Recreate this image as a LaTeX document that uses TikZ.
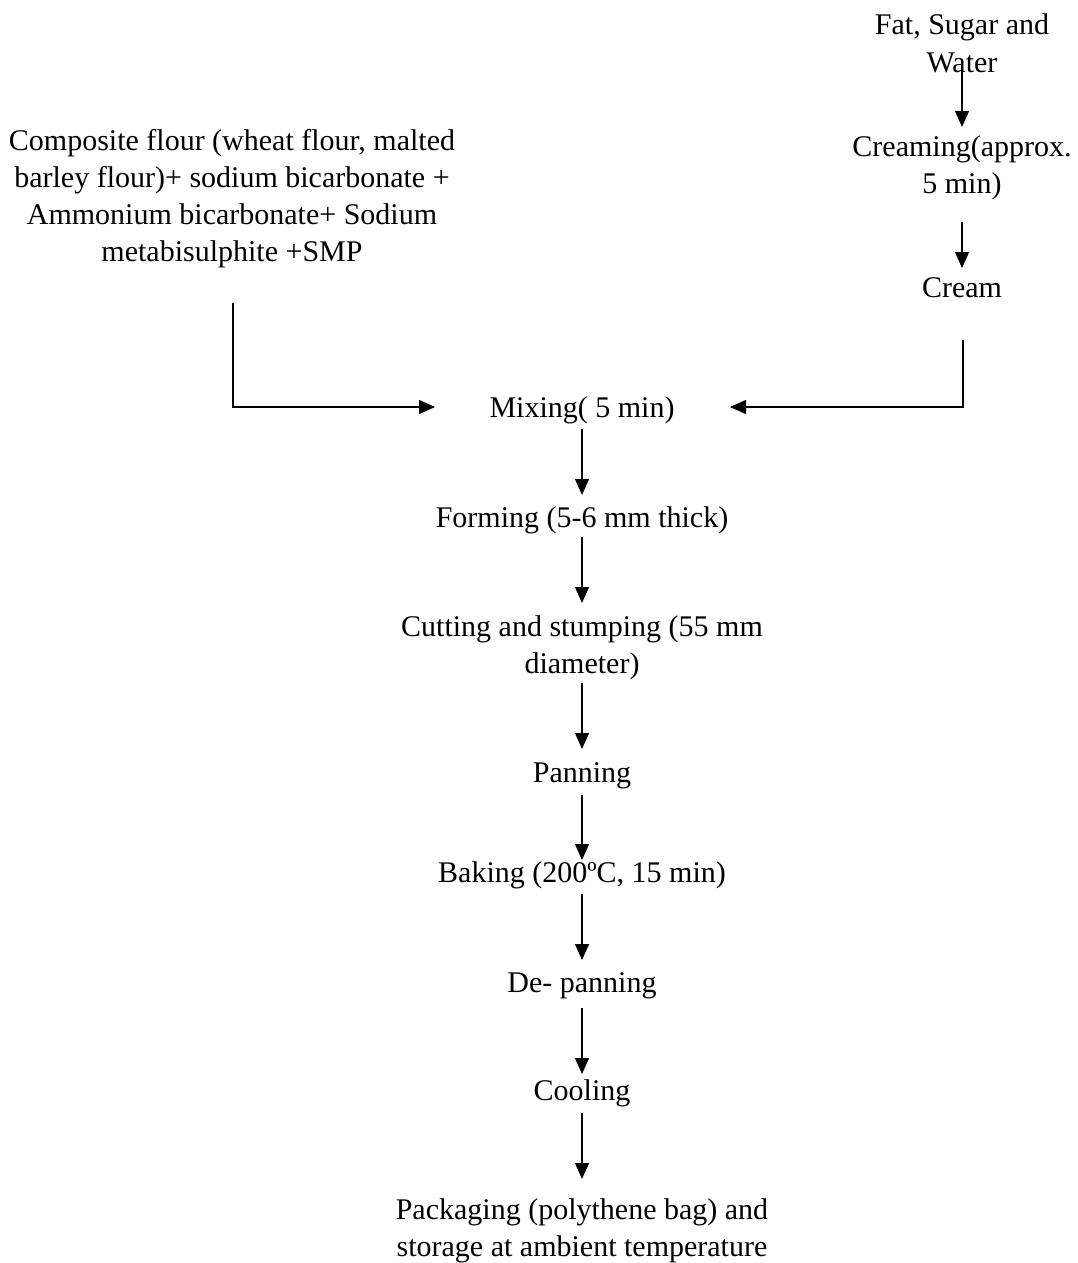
\documentclass[tikz,border=0pt]{standalone}
\usepackage{fontspec}
\setmainfont{Liberation Serif}
\usetikzlibrary{arrows.meta}
\tikzset{
  lbl/.style={anchor=base, inner sep=0pt, align=center, font=\fontsize{30}{37}\selectfont},
  arr/.style={line width=1.3pt, -{Triangle[length=16pt,width=14pt]}},
  ln/.style={line width=1.3pt}
}
\begin{document}
\begin{tikzpicture}[x=1pt,y=-1pt]
\useasboundingbox (0,0) rectangle (1078,1263);
% base anchor = baseline of the last line
\node[lbl] (fat)   at (962,72)   {Fat, Sugar and\\Water};
\node[lbl] (cring) at (962,193)  {Creaming(approx.\\5 min)};
\node[lbl] (cream) at (962,297)  {Cream};
\node[lbl] (comp)  at (232,261)  {Composite flour (wheat flour, malted\\barley flour)+ sodium bicarbonate +\\Ammonium bicarbonate+ Sodium\\metabisulphite +SMP};
\node[lbl] (mix)   at (582,417)  {Mixing( 5 min)};
\node[lbl] (form)  at (582,527)  {Forming (5-6 mm thick)};
\node[lbl] (cut)   at (582,673)  {Cutting and stumping (55 mm\\diameter)};
\node[lbl] (pan)   at (582,782)  {Panning};
\node[lbl] (bake)  at (582,882)  {Baking (200ºC, 15 min)};
\node[lbl] (depan) at (582,992)  {De- panning};
\node[lbl] (cool)  at (582,1100) {Cooling};
\node[lbl] (pack)  at (582,1256) {Packaging (polythene bag) and\\storage at ambient temperature};

\draw[arr] ([yshift=5pt]fat.base) -- ([yshift=66pt]cring.base);
\draw[arr] ([yshift=-29pt]cring.base) -- ([yshift=29pt]cream.base);
\draw[arr] ([xshift=1pt,yshift=-43pt]cream.base) |- ([xshift=148pt,yshift=10pt]mix.base);
\draw[arr] ([xshift=1pt,yshift=-42pt]comp.base) |- ([xshift=-147pt,yshift=10pt]mix.base);
\draw[arr] ([yshift=-12pt]mix.base) -- ([yshift=32pt]form.base);
\draw[arr] ([yshift=-10pt]form.base) -- ([yshift=70pt]cut.base);
\draw[arr] ([yshift=-10pt]cut.base) -- ([yshift=33pt]pan.base);
\draw[arr] ([yshift=-13pt]pan.base) -- ([yshift=22pt]bake.base);
\draw[arr] ([yshift=-12pt]bake.base) -- ([yshift=32pt]depan.base);
\draw[arr] ([yshift=-16pt]depan.base) -- ([yshift=26pt]cool.base);
\draw[arr] ([yshift=-13pt]cool.base) -- ([yshift=77pt]pack.base);
\end{tikzpicture}
\end{document}
